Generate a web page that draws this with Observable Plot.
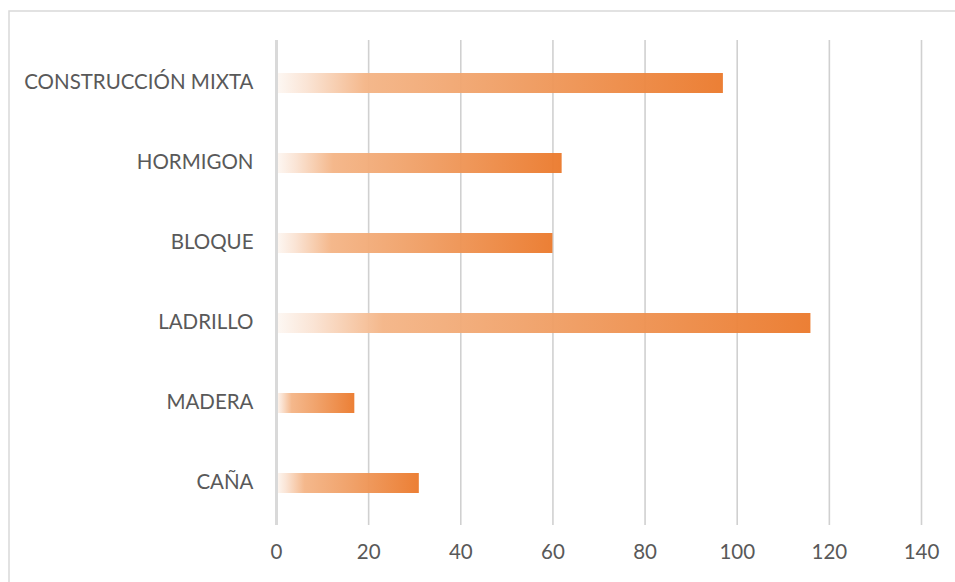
<!DOCTYPE html>
<html><head><meta charset="utf-8">
<script src="https://cdn.jsdelivr.net/npm/d3@7"></script>
<script src="https://cdn.jsdelivr.net/npm/@observablehq/plot@0.6"></script>
<style>body{margin:0;background:#fff}</style>
</head><body><div id="chart"></div>
<script>
const categories = ["CONSTRUCCIÓN MIXTA", "HORMIGON", "BLOQUE", "LADRILLO", "MADERA", "CAÑA"];
const values = [97, 62, 60, 116, 17, 31];
const xTicks = [0, 20, 40, 60, 80, 100, 120, 140];
const data = categories.map((c, i) => ({tipo: c, valor: values[i]}));

const chart = Plot.plot({
  width: 955, height: 582,
  marginTop: 40, marginBottom: 57, marginLeft: 276, marginRight: 34,
  style: {fontFamily: "Lato, sans-serif", fontSize: "20.5px", color: "#595959", background: "#fff"},
  x: {domain: [0, 140], ticks: xTicks},
  y: {domain: categories, paddingInner: 0.75, paddingOuter: 0.375},
  marks: [
    Plot.ruleX(xTicks.slice(1), {stroke: "#d0d0d0", strokeWidth: 1.6}),
    Plot.barX(data, {y: "tipo", x: "valor", fill: "#ed7d31"}),
    Plot.ruleX([0], {stroke: "#d9d9d9", strokeWidth: 3}),
    Plot.axisX({ticks: xTicks, tickSize: 0, tickPadding: 19, label: null}),
    Plot.axisY({tickSize: 0, tickPadding: 23, label: null, dy: -1.5})
  ]
});

const svg = d3.select(chart);
const defs = svg.insert("defs", ":first-child");
const grad = defs.append("linearGradient").attr("id", "barGrad")
  .attr("x1", "0").attr("x2", "1").attr("y1", "0").attr("y2", "0");
[[0, "#fdf8f4"], [0.07, "#fae3d3"], [0.2, "#f4b587"], [0.5, "#f0a067"], [1, "#eb7a2d"]]
  .forEach(([o, c]) => grad.append("stop").attr("offset", o).attr("stop-color", c));
svg.select('g[aria-label="bar"]').selectAll("rect").attr("fill", "url(#barGrad)").attr("fill-opacity", 0.96);
svg.append("rect").attr("x", 9).attr("y", 11).attr("width", 1000).attr("height", 700)
  .attr("fill", "none").attr("stroke", "#d9d9d9").attr("stroke-width", 1.5);

document.getElementById("chart").appendChild(chart);
</script>
</body></html>
